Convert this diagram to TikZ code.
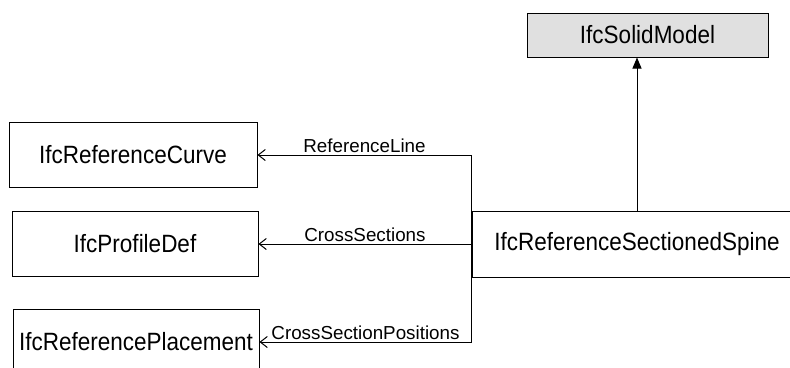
\documentclass[tikz,border=0pt]{standalone}
\usepackage{fontspec}
\setmainfont{Liberation Sans}
\newfontfamily\classfont[FakeStretch=0.9]{Liberation Sans}
\usetikzlibrary{arrows.meta}

\newlength{\du}
\setlength{\du}{1pt}
\definecolor{supercolor}{rgb}{0.880000, 0.880000, 0.880000}

\tikzset{
  umlclass/.style={draw=black, line width=1\du, inner sep=0pt,
    font=\classfont\fontsize{25}{30}\selectfont},
  assoc/.style={draw=black, line width=1\du,
    -{Straight Barb[length=7pt,width=11pt]}},
  inherit/.style={draw=black, line width=1\du,
    -{Triangle[length=11pt,width=9pt]}},
  rolename/.style={above, inner sep=1.5\du, font=\fontsize{18.8}{22}\selectfont}
}

\begin{document}
\begin{tikzpicture}
\pgftransformxscale{1.000000}
\pgftransformyscale{-1.000000}
\path[use as bounding box, clip] (0\du,0\du) rectangle (790\du,367\du);

% classes
\node[umlclass, fill=supercolor, minimum width=241\du, minimum height=44\du] (solid) at (647.5\du,35\du) {IfcSolidModel};
\node[umlclass, minimum width=330\du, minimum height=66\du] (spine) at (637\du,244\du) {IfcReferenceSectionedSpine};
\node[umlclass, minimum width=248\du, minimum height=65\du] (curve) at (133\du,155\du) {IfcReferenceCurve};
\node[umlclass, minimum width=246\du, minimum height=65\du] (profile) at (135\du,244\du) {IfcProfileDef};
\node[umlclass, minimum width=246\du, minimum height=65\du] (placement) at (136\du,342\du) {IfcReferencePlacement};

% supertype
\draw[inherit] (spine.north) -- (spine.north |- solid.south);

% attributes
\draw[assoc] (spine.west) |- node[rolename, pos=0.75] {ReferenceLine} (curve.east);
\draw[assoc] (spine.west) -- node[rolename] {CrossSections} (profile.east);
\draw[assoc] (spine.west) |- node[rolename, pos=0.75] {CrossSectionPositions} (placement.east);
\end{tikzpicture}
\end{document}
